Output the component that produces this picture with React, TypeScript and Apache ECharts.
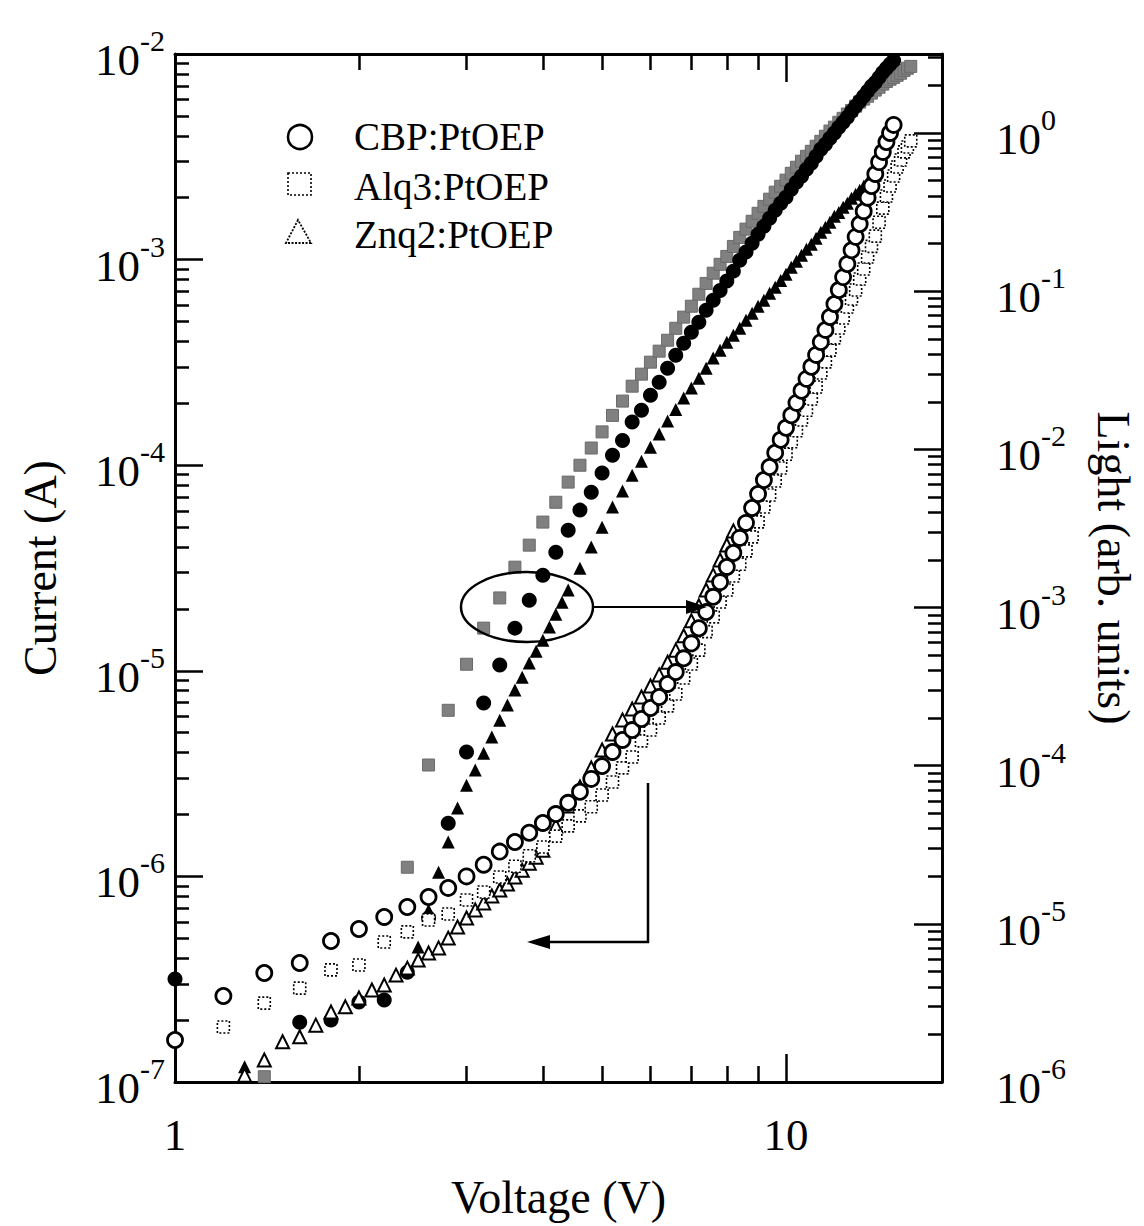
import React, { useEffect, useRef } from 'react';
import * as echarts from 'echarts';

// ---------- Data (Voltage in V; Current in A; Light in arb. units) ----------
// Current (left axis) — open markers
const cbpV = [1.0,1.2,1.4,1.6,1.8,2.0,2.2,2.4,2.6,2.8,3.0,3.2,3.4,3.6,3.8,4.0,4.2,4.4,4.6,4.8,5.0,5.2,5.4,5.6,5.8,6.0,6.2,6.4,6.6,6.8,7.0,7.2,7.4,7.6,7.8,8.0,8.2,8.4,8.6,8.8,9.0,9.2,9.4,9.6,9.8,10.0,10.2,10.4,10.6,10.8,11.0,11.2,11.4,11.6,11.8,12.0,12.2,12.4,12.6,12.8,13.0,13.2,13.4,13.6,13.8,14.0,14.2,14.4,14.6,14.8,15.0];
const cbpI = [1.60e-7,2.62e-7,3.39e-7,3.79e-7,4.85e-7,5.55e-7,6.35e-7,7.10e-7,7.94e-7,8.79e-7,1.00e-6,1.14e-6,1.32e-6,1.47e-6,1.63e-6,1.82e-6,2.01e-6,2.28e-6,2.58e-6,2.98e-6,3.44e-6,4.03e-6,4.61e-6,5.15e-6,5.83e-6,6.59e-6,7.46e-6,8.63e-6,9.86e-6,1.15e-5,1.36e-5,1.61e-5,1.93e-5,2.29e-5,2.70e-5,3.20e-5,3.74e-5,4.43e-5,5.24e-5,6.19e-5,7.24e-5,8.47e-5,9.80e-5,1.15e-4,1.33e-4,1.52e-4,1.75e-4,2.01e-4,2.30e-4,2.63e-4,3.01e-4,3.44e-4,3.97e-4,4.55e-4,5.26e-4,6.08e-4,7.11e-4,8.22e-4,9.52e-4,1.11e-3,1.29e-3,1.49e-3,1.72e-3,2.00e-3,2.28e-3,2.61e-3,2.98e-3,3.34e-3,3.73e-3,4.13e-3,4.52e-3];

const alqV = [1.2,1.4,1.6,1.8,2.0,2.2,2.4,2.6,2.8,3.0,3.2,3.4,3.6,3.8,4.0,4.2,4.4,4.6,4.8,5.0,5.2,5.4,5.6,5.8,6.0,6.2,6.4,6.6,6.8,7.0,7.2,7.4,7.6,7.8,8.0,8.2,8.4,8.6,8.8,9.0,9.2,9.4,9.6,9.8,10.0,10.2,10.4,10.6,10.8,11.0,11.2,11.4,11.6,11.8,12.0,12.2,12.4,12.6,12.8,13.0,13.2,13.4,13.6,13.8,14.0,14.2,14.4,14.6,14.8,15.0,15.2,15.4,15.6,15.8,16.0];
const alqI = [1.85e-7,2.42e-7,2.86e-7,3.51e-7,3.71e-7,4.80e-7,5.37e-7,6.14e-7,6.56e-7,7.68e-7,8.39e-7,9.93e-7,1.12e-6,1.26e-6,1.39e-6,1.57e-6,1.76e-6,1.97e-6,2.18e-6,2.49e-6,2.88e-6,3.37e-6,3.81e-6,4.56e-6,5.15e-6,5.89e-6,6.75e-6,7.71e-6,9.23e-6,1.08e-5,1.26e-5,1.55e-5,1.83e-5,2.16e-5,2.47e-5,2.89e-5,3.30e-5,3.83e-5,4.48e-5,5.30e-5,6.26e-5,7.16e-5,8.38e-5,9.69e-5,1.13e-4,1.30e-4,1.47e-4,1.66e-4,1.85e-4,2.10e-4,2.40e-4,2.81e-4,3.18e-4,3.63e-4,4.16e-4,4.65e-4,5.20e-4,5.88e-4,6.43e-4,7.11e-4,8.05e-4,9.00e-4,1.03e-3,1.16e-3,1.30e-3,1.52e-3,1.78e-3,2.04e-3,2.28e-3,2.55e-3,2.82e-3,3.05e-3,3.34e-3,3.53e-3,3.78e-3];

const znqV = [1.3,1.4,1.5,1.6,1.7,1.8,1.9,2.0,2.1,2.2,2.3,2.4,2.5,2.6,2.7,2.8,2.9,3.0,3.1,3.2,3.3,3.4,3.5,3.6,3.7,3.8,3.9,4.0,4.2,4.4,4.6,4.8,5.0,5.2,5.4,5.6,5.8,6.0,6.2,6.4,6.6,6.8,7.0,7.2,7.4,7.6,7.8,8.0,8.2];
const znqI = [1.08e-7,1.28e-7,1.57e-7,1.66e-7,1.89e-7,2.19e-7,2.32e-7,2.56e-7,2.80e-7,2.96e-7,3.31e-7,3.58e-7,3.92e-7,4.24e-7,4.49e-7,5.01e-7,5.67e-7,6.28e-7,6.87e-7,7.43e-7,8.04e-7,8.59e-7,9.18e-7,9.93e-7,1.07e-6,1.16e-6,1.24e-6,1.34e-6,1.76e-6,2.20e-6,2.72e-6,3.37e-6,4.12e-6,4.93e-6,5.77e-6,6.52e-6,7.46e-6,8.43e-6,9.55e-6,1.10e-5,1.26e-5,1.48e-5,1.75e-5,2.07e-5,2.47e-5,2.92e-5,3.46e-5,4.09e-5,4.79e-5];

// Light (right axis) — filled markers
const cbpLV = [1.0,1.6,1.8,2.0,2.2,2.4,2.6,2.8,3.0,3.2,3.4,3.6,3.8,4.0,4.2,4.4,4.6,4.8,5.0,5.2,5.4,5.6,5.8,6.0,6.2,6.4,6.6,6.8,7.0,7.2,7.4,7.6,7.8,8.0,8.2,8.4,8.6,8.8,9.0,9.2,9.4,9.6,9.8,10.0,10.2,10.4,10.6,10.8,11.0,11.2,11.4,11.6,11.8,12.0,12.2,12.4,12.6,12.8,13.0,13.2,13.4,13.6,13.8,14.0,14.2,14.4,14.6,14.8,15.0];
const cbpL = [4.48e-6,2.39e-6,2.47e-6,3.21e-6,3.30e-6,4.95e-6,1.09e-5,4.33e-5,1.22e-4,2.49e-4,4.33e-4,7.41e-4,1.11e-3,1.60e-3,2.24e-3,3.08e-3,4.13e-3,5.36e-3,7.08e-3,9.18e-3,1.14e-2,1.49e-2,1.77e-2,2.20e-2,2.66e-2,3.26e-2,3.94e-2,4.69e-2,5.51e-2,6.37e-2,7.59e-2,8.77e-2,0.101,0.116,0.134,0.157,0.177,0.201,0.229,0.258,0.289,0.325,0.360,0.393,0.442,0.489,0.533,0.590,0.644,0.713,0.790,0.849,0.927,1.00,1.09,1.17,1.26,1.37,1.48,1.59,1.71,1.84,1.98,2.09,2.25,2.42,2.57,2.72,2.88];

const alqLV = [1.4,2.4,2.6,2.8,3.0,3.2,3.4,3.6,3.8,4.0,4.2,4.4,4.6,4.8,5.0,5.2,5.4,5.6,5.8,6.0,6.2,6.4,6.6,6.8,7.0,7.2,7.4,7.6,7.8,8.0,8.2,8.4,8.6,8.8,9.0,9.2,9.4,9.6,9.8,10.0,10.2,10.4,10.6,10.8,11.0,11.2,11.4,11.6,11.8,12.0,12.2,12.4,12.6,12.8,13.0,13.2,13.4,13.6,13.8,14.0,14.2,14.4,14.6,14.8,15.0,15.2,15.4,15.6,15.8,16.0];
const alqL = [1.08e-6,2.28e-5,1.01e-4,2.24e-4,4.38e-4,7.41e-4,1.15e-3,1.80e-3,2.48e-3,3.47e-3,4.63e-3,6.21e-3,7.94e-3,1.02e-2,1.29e-2,1.64e-2,2.02e-2,2.51e-2,2.99e-2,3.56e-2,4.18e-2,4.90e-2,5.83e-2,6.86e-2,8.04e-2,9.57e-2,0.112,0.130,0.148,0.166,0.192,0.219,0.247,0.277,0.311,0.344,0.382,0.423,0.461,0.504,0.557,0.608,0.664,0.713,0.767,0.826,0.887,0.955,1.03,1.09,1.17,1.24,1.32,1.39,1.48,1.57,1.64,1.71,1.79,1.87,1.95,2.04,2.12,2.19,2.25,2.32,2.39,2.49,2.57,2.64];

const znqLV = [1.3,2.5,2.6,2.7,2.8,2.9,3.0,3.1,3.2,3.3,3.4,3.5,3.6,3.7,3.8,3.9,4.0,4.1,4.2,4.3,4.4,4.6,4.8,5.0,5.2,5.4,5.6,5.8,6.0,6.2,6.4,6.6,6.8,7.0,7.2,7.4,7.6,7.8,8.0,8.2,8.4,8.6,8.8,9.0,9.2,9.4,9.6,9.8,10.0,10.2,10.4,10.6,10.8,11.0,11.2,11.4,11.6,11.8,12.0,12.2,12.4,12.6,12.8,13.0,13.2,13.4,13.6,13.8,14.0];
const znqL = [1.25e-6,7.13e-6,1.22e-5,2.12e-5,3.29e-5,5.40e-5,7.53e-5,9.38e-5,1.20e-4,1.52e-4,1.94e-4,2.42e-4,3.01e-4,3.63e-4,4.46e-4,5.30e-4,6.22e-4,7.52e-4,9.08e-4,1.08e-3,1.29e-3,1.77e-3,2.41e-3,3.22e-3,4.32e-3,5.45e-3,6.87e-3,8.41e-3,1.03e-2,1.25e-2,1.51e-2,1.79e-2,2.11e-2,2.44e-2,2.82e-2,3.26e-2,3.78e-2,4.24e-2,4.76e-2,5.27e-2,5.83e-2,6.56e-2,7.26e-2,8.04e-2,8.77e-2,9.70e-2,0.106,0.117,0.128,0.142,0.155,0.169,0.184,0.198,0.216,0.236,0.254,0.273,0.298,0.315,0.340,0.360,0.387,0.410,0.435,0.461,0.489,0.518,0.541];

const legendNames = ['CBP:PtOEP', 'Alq3:PtOEP', 'Znq2:PtOEP'];

// Axis ticks
const xMajor = [1, 10];
const xMinor = [2, 3, 4, 5, 6, 7, 8, 9];
const curMajor = [1e-7, 1e-6, 1e-5, 1e-4, 1e-3, 1e-2];
const lightMajor = [1e-6, 1e-5, 1e-4, 1e-3, 1e-2, 1e-1, 1];

const minorsOf = (decades: number[], extra: number[] = []) => {
  const out: number[] = [];
  decades.forEach((d) => { for (let m = 2; m <= 9; m++) out.push(m * d); });
  return out.concat(extra);
};
const curMinor = minorsOf([1e-7, 1e-6, 1e-5, 1e-4, 1e-3]);
const lightMinor = minorsOf([1e-6, 1e-5, 1e-4, 1e-3, 1e-2, 1e-1], [2, 3]);

const FONT = '"Liberation Serif", "Times New Roman", serif';

const zip = (xs: number[], ys: number[]) => xs.map((x, i) => [x, ys[i]]);

const expFormatter = (v: number) => `{b|10}{e|${Math.round(Math.log10(v))}}`;
const richExp = {
  b: { fontSize: 45, fontFamily: FONT, color: '#000', lineHeight: 57, verticalAlign: 'bottom' },
  e: { fontSize: 30, fontFamily: FONT, color: '#000', lineHeight: 30, verticalAlign: 'top' },
};

export default function App() {
  const ref = useRef<HTMLDivElement>(null);
  useEffect(() => {
    document.body.style.margin = '0';
    const chart = echarts.init(ref.current!, null, { renderer: 'svg' });
    const axisLine = { show: true, lineStyle: { color: '#000', width: 3 } };
    const noLine = { show: false };
    const xBase = { type: 'log', logBase: 10, min: 1, max: 18, splitLine: { show: false } };
    const curBase = { type: 'log', logBase: 10, min: 1e-7, max: 1e-2, splitLine: { show: false } };
    const lightBase = { type: 'log', logBase: 10, min: 1e-6, max: Math.sqrt(10), splitLine: { show: false } };

    const option: any = {
      animation: false,
      backgroundColor: '#fff',
      grid: { left: 175, right: 196, top: 54, bottom: 144, containLabel: false },
      xAxis: [
        {
          ...xBase, position: 'bottom', axisLine,
          axisTick: { show: true, inside: true, length: 28, lineStyle: { color: '#000', width: 2.5 }, customValues: xMajor },
          axisLabel: { show: true, customValues: xMajor, formatter: (v: number) => String(Math.round(v)), fontSize: 45, fontFamily: FONT, color: '#000', margin: 30 },
          name: 'Voltage (V)', nameLocation: 'middle', nameGap: 92,
          nameTextStyle: { fontSize: 46, fontFamily: FONT, color: '#000' },
        },
        {
          ...xBase, position: 'bottom', axisLine: noLine,
          axisTick: { show: true, inside: true, length: 16, lineStyle: { color: '#000', width: 2.5 }, customValues: xMinor },
          axisLabel: { show: false },
        },
        {
          ...xBase, position: 'top', axisLine,
          axisTick: { show: true, inside: true, length: 28, lineStyle: { color: '#000', width: 2.5 }, customValues: xMajor },
          axisLabel: { show: false },
        },
        {
          ...xBase, position: 'top', axisLine: noLine,
          axisTick: { show: true, inside: true, length: 16, lineStyle: { color: '#000', width: 2.5 }, customValues: xMinor },
          axisLabel: { show: false },
        },
      ],
      yAxis: [
        {
          ...curBase, position: 'left', axisLine,
          axisTick: { show: true, inside: true, length: 28, lineStyle: { color: '#000', width: 2.5 }, customValues: curMajor },
          axisLabel: { show: true, customValues: curMajor, formatter: expFormatter, rich: richExp, margin: 10 },
          name: 'Current (A)', nameLocation: 'middle', nameGap: 112, nameRotate: 90,
          nameTextStyle: { fontSize: 46, fontFamily: FONT, color: '#000' },
        },
        {
          ...curBase, position: 'left', axisLine: noLine,
          axisTick: { show: true, inside: true, length: 14, lineStyle: { color: '#000', width: 2.5 }, customValues: curMinor },
          axisLabel: { show: false },
        },
        {
          ...lightBase, position: 'right', axisLine,
          axisTick: { show: true, inside: true, length: 28, lineStyle: { color: '#000', width: 2.5 }, customValues: lightMajor },
          axisLabel: { show: true, customValues: lightMajor, formatter: expFormatter, rich: richExp, margin: 54 },
          name: 'Light (arb. units)', nameLocation: 'middle', nameGap: 148, nameRotate: -90,
          nameTextStyle: { fontSize: 46, fontFamily: FONT, color: '#000' },
        },
        {
          ...lightBase, position: 'right', axisLine: noLine,
          axisTick: { show: true, inside: true, length: 14, lineStyle: { color: '#000', width: 2.5 }, customValues: lightMinor },
          axisLabel: { show: false },
        },
      ],
      series: [
        {
          name: 'Alq3:PtOEP (light)', type: 'scatter', xAxisIndex: 0, yAxisIndex: 2,
          symbol: 'rect', symbolSize: 12, data: zip(alqLV, alqL),
          itemStyle: { color: '#808080', borderColor: '#6a6a6a', borderWidth: 1, opacity: 1 },
        },
        {
          name: 'CBP:PtOEP (light)', type: 'scatter', xAxisIndex: 0, yAxisIndex: 2,
          symbol: 'circle', symbolSize: 15, data: zip(cbpLV, cbpL),
          itemStyle: { color: '#000', opacity: 1 },
        },
        {
          name: 'Znq2:PtOEP (light)', type: 'scatter', xAxisIndex: 0, yAxisIndex: 2,
          symbol: 'triangle', symbolSize: 13, data: zip(znqLV, znqL),
          itemStyle: { color: '#000', opacity: 1 },
        },
        {
          name: legendNames[2], type: 'scatter', xAxisIndex: 0, yAxisIndex: 0,
          symbol: 'triangle', symbolSize: 13, data: zip(znqV, znqI),
          itemStyle: { color: '#fff', borderColor: '#000', borderWidth: 2, opacity: 1 },
        },
        {
          name: legendNames[1], type: 'scatter', xAxisIndex: 0, yAxisIndex: 0,
          symbol: 'rect', symbolSize: 12, data: zip(alqV, alqI),
          itemStyle: { color: '#fff', borderColor: '#000', borderWidth: 1.6, borderType: [2, 2], opacity: 1 },
        },
        {
          name: legendNames[0], type: 'scatter', xAxisIndex: 0, yAxisIndex: 0,
          symbol: 'circle', symbolSize: 15, data: zip(cbpV, cbpI),
          itemStyle: { color: '#fff', borderColor: '#000', borderWidth: 2.8, opacity: 1 },
        },
      ],
      graphic: [
        // legend
        { type: 'circle', shape: { cx: 300, cy: 137, r: 12 }, style: { fill: '#fff', stroke: '#000', lineWidth: 2.5 } },
        { type: 'rect', shape: { x: 288, y: 173, width: 23, height: 22 }, style: { fill: '#fff', stroke: '#000', lineWidth: 1.6, lineDash: [2, 2] } },
        { type: 'polygon', shape: { points: [[298, 220], [286, 243], [311, 243]] }, style: { fill: '#fff', stroke: '#000', lineWidth: 1.8, lineDash: [2, 1.5] } },
        { type: 'text', x: 354, y: 136, style: { text: legendNames[0], fontSize: 39, fontFamily: FONT, fill: '#000', verticalAlign: 'middle' } },
        { type: 'text', x: 354, y: 186, style: { text: legendNames[1], fontSize: 39, fontFamily: FONT, fill: '#000', verticalAlign: 'middle' } },
        { type: 'text', x: 354, y: 234, style: { text: legendNames[2], fontSize: 39, fontFamily: FONT, fill: '#000', verticalAlign: 'middle' } },
        // ellipse & arrow -> right axis
        { type: 'ellipse', shape: { cx: 527, cy: 607, rx: 66, ry: 35 }, style: { fill: 'none', stroke: '#000', lineWidth: 2.5 }, z: 100 },
        { type: 'line', shape: { x1: 593, y1: 607, x2: 690, y2: 607 }, style: { stroke: '#000', lineWidth: 2.2 }, z: 100 },
        { type: 'polygon', shape: { points: [[707, 607], [686, 600], [686, 614]] }, style: { fill: '#000' }, z: 100 },
        // L-arrow -> left axis
        { type: 'polyline', shape: { points: [[648, 783], [648, 942], [548, 942]] }, style: { fill: 'none', stroke: '#000', lineWidth: 2.5 }, z: 100 },
        { type: 'polygon', shape: { points: [[527, 942], [550, 935], [550, 949]] }, style: { fill: '#000' }, z: 100 },
      ],
    };
    chart.setOption(option);
    return () => chart.dispose();
  }, []);
  return <div ref={ref} style={{ width: 1144, height: 1226, background: '#fff' }} />;
}
